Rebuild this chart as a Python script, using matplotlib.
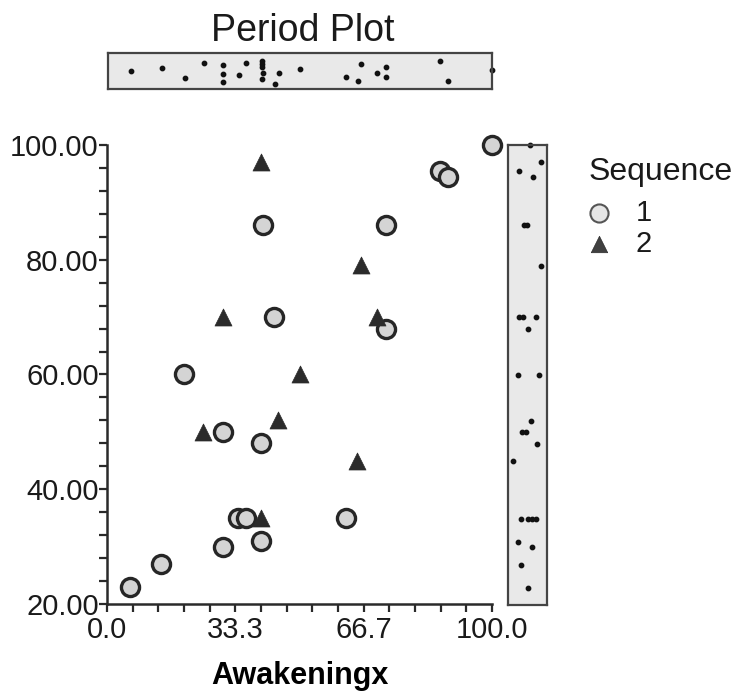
import matplotlib.pyplot as plt
import numpy as np

plt.rcParams['font.family'] = ['Liberation Sans', 'DejaVu Sans']

# Sequence 1 (circles) and Sequence 2 (triangles)
seq1_x = [6, 14, 30, 40, 34, 36, 62, 40, 30, 20, 43.5, 72.5, 40.5, 72.5, 86.5, 88.5, 100]
seq1_y = [23, 27, 30, 31, 35, 35, 35, 48, 50, 60, 70, 68, 86, 86, 95.5, 94.5, 100]
seq2_x = [40, 30, 66, 70, 50, 44.5, 25, 65, 40]
seq2_y = [97, 70, 79, 70, 60, 52, 50, 45, 35]

# jitter of the marginal dot strips (0..1 across the strip)
top_jitter1 = [.51, .60, .71, .83, .35, .76, .29, .65, .41, .26, .06, .31, .44, .65, .85, .16, .53]
top_jitter2 = [.22, .11, .73, .44, .58, .42, .76, .16, .74]
side_jitter1 = [.52, .31, .62, .22, .31, .51, .62, .76, .36, .22, .26, .52, .41, .49, .26, .65, .56]
side_jitter2 = [.89, .38, .88, .75, .82, .61, .46, .09, .74]

x_ticks = [0, 100 / 3, 200 / 3, 100]
y_ticks = [20, 40, 60, 80, 100]

fig = plt.figure(figsize=(7.38, 6.98), dpi=100)
ax = fig.add_axes([0.145, 0.1347, 0.5217, 0.6576])
ax_top = fig.add_axes([0.1463, 0.8725, 0.5203, 0.0516])
ax_side = fig.add_axes([0.6883, 0.1333, 0.0528, 0.659])

edge = '#2a2a2a'
ax.scatter(seq1_x, seq1_y, s=170, marker='o', facecolor='#d4d4d4', edgecolor='#262626',
           linewidth=2.4, label='1', zorder=3, clip_on=False)
ax.scatter(seq2_x, seq2_y, s=150, marker='^', facecolor='#2b2b2b', edgecolor='#2b2b2b',
           linewidth=0.5, label='2', zorder=3, clip_on=False)

ax.set_xlim(0, 100)
ax.set_ylim(20, 100)
ax.set_xticks(x_ticks)
ax.set_xticklabels(['%.1f' % v for v in x_ticks])
ax.set_yticks(y_ticks)
ax.set_yticklabels(['%.2f' % v for v in y_ticks])
ax.set_xticks(np.arange(0, 15) * 100 / 15, minor=True)
ax.set_yticks(np.arange(20, 100, 4), minor=True)
ax.tick_params(which='both', direction='out', length=6, width=1.6, color=edge)
ax.tick_params(axis='both', labelsize=21, labelcolor='#1a1a1a')
ax.tick_params(axis='y', pad=0)
ax.tick_params(axis='x', pad=3)
for s in ['top', 'right']:
    ax.spines[s].set_visible(False)
for s in ['left', 'bottom']:
    ax.spines[s].set_linewidth(1.8)
    ax.spines[s].set_color(edge)
ax.set_xlabel('Awakeningx', fontsize=22, fontweight='bold', labelpad=12)

# top strip: x values
ax_top.set_facecolor('#e9e9e9')
ax_top.scatter(seq1_x + seq2_x, top_jitter1 + top_jitter2, s=10, color='#111111', clip_on=False)
ax_top.set_xlim(0, 100)
ax_top.set_ylim(-0.12, 1.12)
ax_top.set_xticks([])
ax_top.set_yticks([])
for s in ax_top.spines.values():
    s.set_linewidth(1.6)
    s.set_color('#444444')
fig.text(0.41, 0.955, 'Period Plot', fontsize=27, ha='center', va='center', color='#1a1a1a')

# side strip: y values
ax_side.set_facecolor('#e9e9e9')
ax_side.scatter(side_jitter1 + side_jitter2, seq1_y + seq2_y, s=10, color='#111111', clip_on=False)
ax_side.set_ylim(20, 100)
ax_side.set_xlim(-0.05, 1.05)
ax_side.set_xticks([])
ax_side.set_yticks([])
for s in ax_side.spines.values():
    s.set_linewidth(1.6)
    s.set_color('#444444')

# legend
fig.text(0.797, 0.753, 'Sequence', fontsize=23, ha='left', va='center', color='#1a1a1a')
handles, labels = ax.get_legend_handles_labels()
leg = fig.legend(handles, labels, loc='upper left',
                 bbox_to_anchor=(0.792, 0.715), frameon=False, fontsize=21,
                 borderpad=0, labelspacing=0.1, handlelength=1.0,
                 handletextpad=0.75, borderaxespad=0)
for t in leg.get_texts():
    t.set_color('#1a1a1a')
leg.legend_handles[0].set_sizes([170])
leg.legend_handles[0].set_linewidth(1.5)
leg.legend_handles[0].set_edgecolor('#555555')
leg.legend_handles[0].set_facecolor('#e6e6e6')
leg.legend_handles[1].set_sizes([140])
leg.legend_handles[1].set_facecolor('#404040')

fig.savefig('out.png', dpi=100)
